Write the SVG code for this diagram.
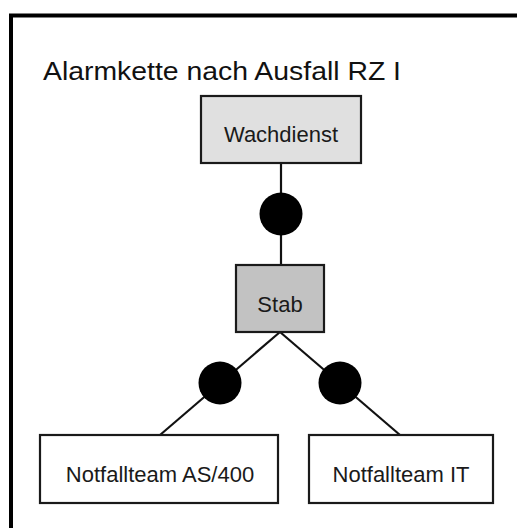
<svg xmlns="http://www.w3.org/2000/svg" width="517" height="528" viewBox="0 0 517 528">
<style>
  .box { stroke: #1a1a1a; stroke-width: 2.2; }
  .lbl { font-family: "Liberation Sans", Arial, sans-serif; font-size: 22px; fill: #1a1a1a; text-anchor: middle; }
  .title { font-family: "Liberation Sans", Arial, sans-serif; font-size: 25px; fill: #111; }
  .edge { stroke: #111; stroke-width: 2.2; fill: none; }
  .dot { fill: #000; }
</style>
<rect width="517" height="528" fill="#fff"/>
<g id="frame">
  <path d="M11 528 V15.5 H517" fill="none" stroke="#000" stroke-width="4"/>
</g>
<text id="title" class="title" x="43" y="80" textLength="358" lengthAdjust="spacingAndGlyphs">Alarmkette nach Ausfall RZ I</text>
<g id="connectors">
  <line class="edge" x1="281" y1="163" x2="281" y2="265"/>
  <line class="edge" x1="280" y1="332" x2="160" y2="435"/>
  <line class="edge" x1="280" y1="332" x2="400" y2="435"/>
  <circle class="dot" cx="281" cy="214" r="21.5"/>
  <circle class="dot" cx="220" cy="383" r="21.5"/>
  <circle class="dot" cx="340" cy="383" r="21.5"/>
</g>
<g id="wachdienst">
  <rect class="box" x="201" y="96" width="160" height="67" fill="#e0e0e0"/>
  <text class="lbl" x="281" y="142">Wachdienst</text>
</g>
<g id="stab">
  <rect class="box" x="236" y="265" width="88" height="67" fill="#c2c2c2"/>
  <text class="lbl" x="280" y="312">Stab</text>
</g>
<g id="notfallteam-as400">
  <rect class="box" x="40" y="435" width="238" height="68" fill="#fff"/>
  <text class="lbl" x="160" y="482">Notfallteam AS/400</text>
</g>
<g id="notfallteam-it">
  <rect class="box" x="309" y="435" width="184" height="68" fill="#fff"/>
  <text class="lbl" x="401" y="482">Notfallteam IT</text>
</g>
</svg>
